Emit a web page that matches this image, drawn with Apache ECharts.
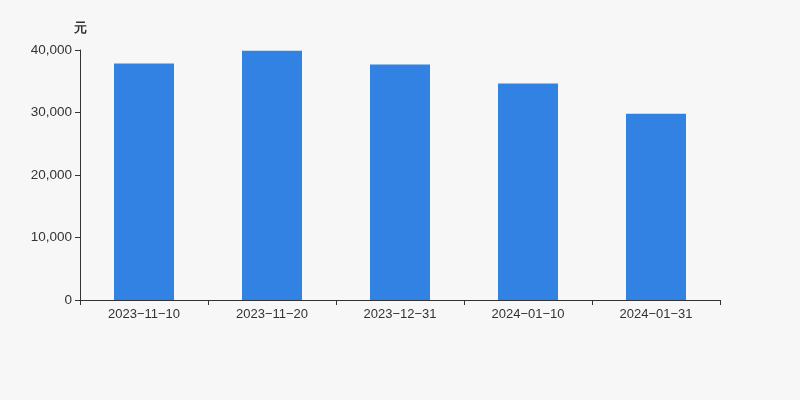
<!DOCTYPE html>
<html><head><meta charset="utf-8">
<script src="https://cdn.jsdelivr.net/npm/echarts@6/dist/echarts.min.js"></script>
<style>html,body{margin:0;padding:0;background:#f7f7f7;}#c{width:800px;height:400px;}</style>
</head><body><div id="c"></div>
<script>
const categories = ['2023-11-10','2023-11-20','2023-12-31','2024-01-10','2024-01-31'];
const values = [37850, 39900, 37700, 34650, 29800];
const yTicks = [0, 10000, 20000, 30000, 40000];

const FONT = 'Liberation Sans, Arial, sans-serif';
const chart = echarts.init(document.getElementById('c'));
chart.setOption({
  backgroundColor: '#f7f7f7',
  animation: false,
  grid: {left: 80, right: 80, top: 50, bottom: 100},
  xAxis: {
    type: 'category',
    data: categories,
    axisLine: {show: true, lineStyle: {color: '#333'}},
    axisTick: {show: true, length: 5, alignWithLabel: false, lineStyle: {color: '#333'}},
    axisLabel: {color: '#333', fontSize: 13, margin: 8, fontFamily: FONT,
      formatter: v => v.replace(/-/g, '\u2212')}
  },
  yAxis: {
    type: 'value',
    name: '元',
    nameTextStyle: {color: '#333', fontWeight: 'bold', fontSize: 13, align: 'center', fontFamily: FONT},
    nameGap: 15,
    min: yTicks[0], max: yTicks[yTicks.length-1], interval: 10000,
    axisLine: {show: true, lineStyle: {color: '#333'}},
    axisTick: {show: true, length: 5, lineStyle: {color: '#333'}},
    splitLine: {show: false},
    axisLabel: {color: '#333', fontSize: 13.5, margin: 8, fontFamily: FONT,
      formatter: v => v.toLocaleString('en-US')}
  },
  series: [{
    type: 'bar',
    data: values,
    barWidth: 60,
    itemStyle: {color: '#3282e3'}
  }]
});
</script></body></html>
